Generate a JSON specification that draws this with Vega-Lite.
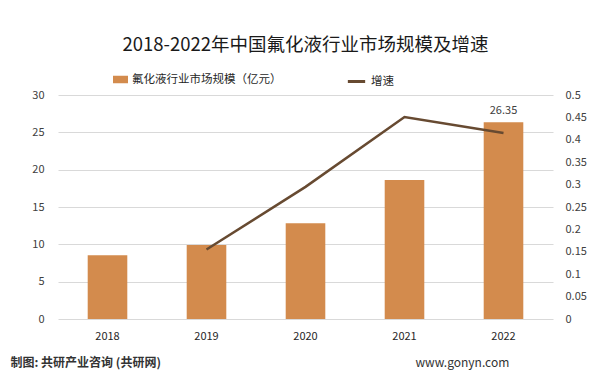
{
  "$schema": "https://vega.github.io/schema/vega-lite/v6.json",
  "width": 495,
  "height": 224,
  "autosize": {"type": "none"},
  "padding": {"left": 58, "top": 95, "right": 62, "bottom": 69},
  "background": "white",
  "config": {
    "font": "Noto Sans CJK SC",
    "view": {"stroke": null},
    "axis": {"labelFont": "Noto Sans CJK SC", "labelFontSize": 11, "labelColor": "#404040", "titleFont": "Noto Sans CJK SC"},
    "legend": {"labelFont": "Noto Sans CJK SC", "labelFontSize": 11.5, "labelColor": "#262626"}
  },
  "title": {
    "text": "2018-2022年中国氟化液行业市场规模及增速",
    "fontSize": 18.5,
    "fontWeight": "normal",
    "color": "#1a1a1a",
    "font": "Noto Sans CJK SC",
    "anchor": "middle",
    "frame": "group",
    "baseline": "middle",
    "offset": 8
  },
  "data": {
    "values": [
      {"year": "2018", "value": 8.54, "growth": null},
      {"year": "2019", "value": 9.92, "growth": 0.155},
      {"year": "2020", "value": 12.83, "growth": 0.295},
      {"year": "2021", "value": 18.6, "growth": 0.451},
      {"year": "2022", "value": 26.35, "growth": 0.415}
    ]
  },
  "encoding": {
    "x": {
      "field": "year",
      "type": "ordinal",
      "scale": {"paddingInner": 0.6, "paddingOuter": 0.3},
      "axis": {"title": null, "labelAngle": 0, "domain": false, "ticks": false, "labelPadding": 11, "labelFontSize": 11, "labelColor": "#262626"}
    }
  },
  "layer": [
    {
      "encoding": {
        "y": {
          "field": "value",
          "type": "quantitative",
          "scale": {"domain": [0, 30]},
          "axis": {
            "values": [0, 5, 10, 15, 20, 25, 30],
            "grid": true,
            "gridColor": "#d9d9d9",
            "domain": false,
            "ticks": false,
            "labelPadding": 14,
            "title": "制图: 共研产业咨询 (共研网)",
            "titleAngle": 0,
            "titleAlign": "left",
            "titleBaseline": "middle",
            "titleX": -48,
            "titleY": 267,
            "titleFontSize": 12,
            "titleFontWeight": "bold",
            "titleColor": "#333333"
          }
        }
      },
      "layer": [
        {
          "mark": {"type": "bar"},
          "encoding": {
            "fill": {
              "datum": "氟化液行业市场规模（亿元）",
              "scale": {"range": ["#D38B4D"]},
              "legend": {
                "orient": "none",
                "legendX": 55,
                "legendY": -23,
                "title": null,
                "symbolType": "M-1,-0.5H1V0.5H-1Z",
                "symbolSize": 225,
                "symbolStrokeWidth": 0
              }
            }
          }
        },
        {
          "transform": [{"filter": "datum.year == '2022'"}],
          "mark": {"type": "text", "dy": -11, "fontSize": 11, "color": "#404040"},
          "encoding": {"text": {"field": "value", "type": "quantitative", "format": ".2f"}}
        }
      ]
    },
    {
      "mark": {"type": "line", "strokeWidth": 2.5},
      "encoding": {
        "y": {
          "field": "growth",
          "type": "quantitative",
          "scale": {"domain": [0, 0.5]},
          "axis": {
            "orient": "right",
            "values": [0, 0.05, 0.1, 0.15, 0.2, 0.25, 0.3, 0.35, 0.4, 0.45, 0.5],
            "format": ".2~f",
            "grid": false,
            "domain": false,
            "ticks": false,
            "labelPadding": 12,
            "title": "www.gonyn.com",
            "titleAngle": 0,
            "titleAlign": "left",
            "titleBaseline": "middle",
            "titleX": -138,
            "titleY": 267,
            "titleFontSize": 12,
            "titleFontWeight": "normal",
            "titleColor": "#333333"
          }
        },
        "stroke": {
          "datum": "增速",
          "scale": {"range": ["#674A31"]},
          "legend": {
            "orient": "none",
            "legendX": 288,
            "legendY": -24,
            "title": null,
            "symbolType": "stroke",
            "symbolStrokeWidth": 3,
            "symbolSize": 300
          }
        }
      }
    }
  ],
  "resolve": {"scale": {"y": "independent"}}
}
